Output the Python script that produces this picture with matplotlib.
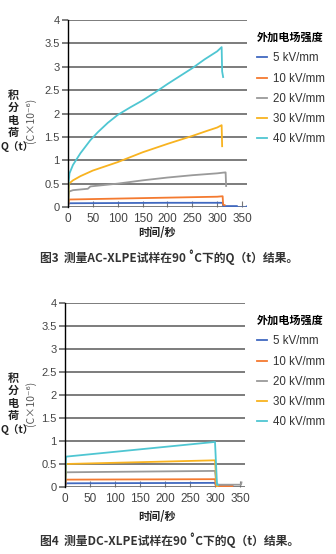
import matplotlib
matplotlib.use("Agg")
import matplotlib.pyplot as plt

# AC-XLPE (top) data, Q(t) in 1e-6 C
ac_t5 = [0, 1, 2, 100, 200, 300, 311, 312, 340, 341, 358, 359]
ac_q5 = [0, 0.07, 0.08, 0.085, 0.09, 0.09, 0.09, 0.02, 0.02, -0.01, -0.01, 0.01]
ac_t10 = [0, 2, 100, 200, 300, 311, 312, 315]
ac_q10 = [0, 0.16, 0.18, 0.2, 0.22, 0.23, 0.05, 0.04]
ac_t20 = [0, 2, 10, 30, 40, 45, 100, 150, 200, 250, 300, 316, 317, 318]
ac_q20 = [0, 0.33, 0.36, 0.38, 0.39, 0.44, 0.5, 0.57, 0.63, 0.68, 0.72, 0.74, 0.74, 0.45]
ac_t30 = [0, 2, 10, 25, 50, 75, 100, 150, 200, 250, 280, 300, 309, 310]
ac_q30 = [0, 0.5, 0.57, 0.66, 0.78, 0.87, 0.96, 1.17, 1.35, 1.52, 1.63, 1.7, 1.75, 1.3]
ac_t40 = [0, 1, 3, 10, 25, 45, 60, 80, 100, 125, 150, 175, 200, 225, 250, 275, 300, 309, 310, 312]
ac_q40 = [0, 0.5, 0.72, 0.9, 1.15, 1.43, 1.6, 1.8, 1.97, 2.13, 2.28, 2.45, 2.63, 2.8, 2.97, 3.16, 3.33, 3.42, 2.9, 2.78]

# DC-XLPE (bottom) data
dc_t5 = [0, 2, 300, 302, 335]
dc_q5 = [0, 0.08, 0.09, 0.02, 0.02]
dc_t10 = [0, 2, 300, 302, 335]
dc_q10 = [0, 0.16, 0.17, 0.02, 0.02]
dc_t20 = [0, 2, 300, 303, 352, 353]
dc_q20 = [0, 0.32, 0.35, 0.05, 0.05, 0.1]
dc_t30 = [0, 2, 300, 303, 305]
dc_q30 = [0, 0.5, 0.58, 0.05, 0]
dc_t40 = [0, 2, 300, 304, 306]
dc_q40 = [0, 0.66, 0.98, 0.05, 0.05]

labels = ["5 kV/mm", "10 kV/mm", "20 kV/mm", "30 kV/mm", "40 kV/mm"]
colors = ["#4169C0", "#F47A30", "#9A9A9A", "#F8B320", "#4FC6D2"]
yticks = [0, 0.5, 1, 1.5, 2, 2.5, 3, 3.5, 4]
ytick_labels = ["0", "0.5", "1", "1.5", "2", "2.5", "3", "3.5", "4"]
xticks = [0, 50, 100, 150, 200, 250, 300, 350]

cjk = ["Noto Sans CJK SC", "DejaVu Sans"]
W, H = 336, 554

fig = plt.figure(figsize=(W / 100, H / 100), dpi=100)
fig.patch.set_facecolor("white")


def draw_panel(rect, series, top_px, caption):
    ax = fig.add_axes(rect)
    for (t, q), lab, c in zip(series, labels, colors):
        ax.plot(t, q, color=c, lw=1.3, label=lab, zorder=3)
    ax.set_xlim(0, 360)
    ax.set_ylim(0, 4)
    ax.set_yticks(yticks)
    ax.set_yticklabels(ytick_labels, family="Liberation Sans", fontsize=8, color="#444444")
    ax.set_xticks(xticks)
    ax.set_xticklabels([str(v) for v in xticks], family="Liberation Sans", fontsize=8.5, color="#444444")
    ax.tick_params(axis="y", length=4, width=1.2, color="#666666", pad=2)
    ax.tick_params(axis="x", direction="in", length=4, width=0.8, color="#777777", pad=4)
    for s in ["top", "right", "bottom"]:
        ax.spines[s].set_visible(False)
    ax.spines["left"].set_color("black")
    ax.spines["left"].set_linewidth(1.0)
    ax.spines["left"].set_zorder(4)
    ax.yaxis.grid(True, color="#666666", lw=1.2)
    ax.set_axisbelow(True)

    leg = ax.legend(loc="upper left", bbox_to_anchor=(257 / W, 1 - (top_px + 11) / H),
                    bbox_transform=fig.transFigure, frameon=False, fontsize=8,
                    handlelength=0.9, handletextpad=0.5, labelspacing=0.72,
                    borderpad=0, borderaxespad=0, title="外加电场强度",
                    title_fontproperties={"family": cjk, "size": 8, "weight": "bold"},
                    prop={"family": "Liberation Sans", "size": 8.3})
    leg._legend_box.align = "left"
    for txt in leg.get_texts():
        txt.set_color("#333333")

    # y label pieces
    fig.text(13 / W, 1 - (top_px + 94) / H, "积\n分\n电\n荷", family=cjk, fontsize=8,
             weight="bold", ha="center", va="center", linespacing=0.95, color="#222222")
    fig.text(31 / W, 1 - (top_px + 100) / H, "(C×10⁻⁶)", family=cjk, fontsize=7.5,
             rotation=90, ha="center", va="center", color="#555555")
    fig.text(17 / W, 1 - (top_px + 127) / H, "Q（t）", family=cjk, fontsize=7.5,
             weight="bold", ha="center", va="center", color="#222222")

    fig.text(157 / W, 1 - (top_px + 213) / H, "时间/秒", family=cjk, fontsize=8,
             weight="bold", ha="center", va="center", color="#222222")
    fig.text(40 / W, 1 - (top_px + 237) / H, caption, family=cjk, fontsize=8.5,
             weight="bold", ha="left", va="center", color="#333333")
    return ax


top_series = [(ac_t5, ac_q5), (ac_t10, ac_q10), (ac_t20, ac_q20), (ac_t30, ac_q30), (ac_t40, ac_q40)]
bot_series = [(dc_t5, dc_q5), (dc_t10, dc_q10), (dc_t20, dc_q20), (dc_t30, dc_q30), (dc_t40, dc_q40)]

draw_panel([68 / W, 1 - 207 / H, 179 / W, 187 / H], top_series, 20,
           "图3  测量AC-XLPE试样在90 ˚C下的Q（t）结果。")
draw_panel([65 / W, 1 - 487 / H, 180 / W, 184 / H], bot_series, 303,
           "图4  测量DC-XLPE试样在90 ˚C下的Q（t）结果。")

fig.savefig("out.png", dpi=100, facecolor="white")
